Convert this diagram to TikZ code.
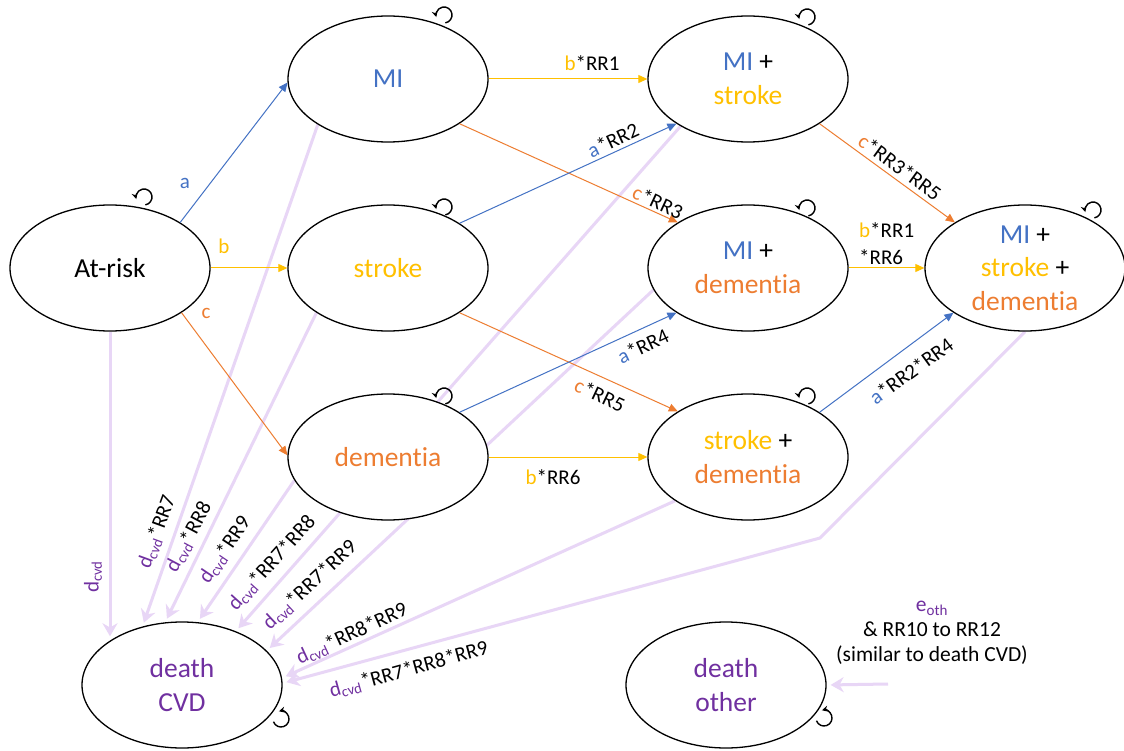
\documentclass[tikz,border=0pt]{standalone}
\usepackage{fontspec}
\setmainfont{Carlito}[Ligatures=NoCommon]
\usetikzlibrary{shapes.geometric,arrows.meta,calc}
\pgfdeclarelayer{bg}
\pgfsetlayers{bg,main}
\definecolor{cblue}{RGB}{68,114,196}
\definecolor{cyel}{RGB}{255,192,0}
\definecolor{corg}{RGB}{237,125,49}
\definecolor{cpur}{RGB}{112,48,160}
\definecolor{clav}{RGB}{232,214,246}
\newcommand\dcvd{\textcolor{cpur}{d\textsubscript{cvd}}}
\begin{document}
\begin{tikzpicture}[x=1pt,y=-1pt,
  state/.style={ellipse, draw=black, line width=1.3pt, fill=white,
    minimum width=200pt, minimum height=126pt, inner sep=0pt},
  txt/.style={align=center, inner sep=0pt, font=\fontsize{27.5}{33.5}\selectfont},
  lbl/.style={font=\fontsize{21}{26}\selectfont, inner sep=0pt},
  tr/.style={line width=1pt, -{Triangle[length=9pt,width=8pt]}},
  die/.style={draw=clav, line width=3pt, -{Stealth[length=13pt,width=15pt]}, shorten >=4pt},
  loopc/.style={line width=1.4pt, -{Stealth[length=6pt,width=6pt]}}
]
\useasboundingbox (0,0) rectangle (1124,751);
\begin{pgfonlayer}{bg}
\fill[white] (0,0) rectangle (1124,751);
\end{pgfonlayer}

% states
\node[state] (ar) at (110,268) {};
\node[txt] (ar-t) at (ar) {At-risk};
\node[state] (mi) at (388,79) {};
\node[txt] (mi-t) at (mi) {\textcolor{cblue}{MI}};
\node[state] (st) at (388,268) {};
\node[txt] (st-t) at (st) {\textcolor{cyel}{stroke}};
\node[state] (de) at (388,457) {};
\node[txt] (de-t) at (de) {\textcolor{corg}{dementia}};
\node[state] (ms) at (748,79) {};
\node[txt] (ms-t) at (ms) {\textcolor{cblue}{MI} +\\\textcolor{cyel}{stroke}};
\node[state] (md) at (748,268) {};
\node[txt] (md-t) at (md) {\textcolor{cblue}{MI} +\\\textcolor{corg}{dementia}};
\node[state] (sd) at (748,457) {};
\node[txt] (sd-t) at (sd) {\textcolor{cyel}{stroke} +\\\textcolor{corg}{dementia}};
\node[state] (msd) at (1025,268) {};
\node[txt] (msd-t) at (msd) {\textcolor{cblue}{MI} +\\\textcolor{cyel}{stroke} +\\\textcolor{corg}{dementia}};
\node[state] (cvd) at (182,685) {};
\node[txt] (cvd-t) at (cvd) {\textcolor{cpur}{death}\\\textcolor{cpur}{CVD}};
\node[state] (oth) at (726,685) {};
\node[txt] (oth-t) at (oth) {\textcolor{cpur}{death}\\\textcolor{cpur}{other}};

% death transitions (behind the states)
\coordinate (bend) at (820,538);
\coordinate (othsrc) at (888,684);
\begin{pgfonlayer}{bg}
\draw[die] (ar.south) -- (ar.south |- cvd.148);
\draw[die] (mi.213) -- (cvd.124);
\draw[die] (st.212) -- (cvd.105);
\draw[die] (de.194) -- (cvd.76);
\draw[die] (ms.215) -- (cvd.45);
\draw[die] (md.193) -- (cvd.22);
\draw[die] (sd.211) -- (cvd.4);
\draw[die] (msd.south) -- (bend) -- (cvd.1);
\draw[die] (othsrc) -- (oth.east);
\end{pgfonlayer}

% disease transitions
\draw[tr,cblue] (ar.33) -- (mi.182);
\draw[tr,cyel] (ar.east) -- (st.west);
\draw[tr,corg] (ar.-32) -- (de.179);
\draw[tr,cyel] (mi.east) -- (ms.west);
\draw[tr,corg] (mi.-32) -- (md.147);
\draw[tr,cblue] (st.32) -- (ms.212);
\draw[tr,corg] (st.-32) -- (sd.147);
\draw[tr,cblue] (de.32) -- (md.212);
\draw[tr,cyel] (de.east) -- (sd.west);
\draw[tr,corg] (ms.-32) -- (msd.147);
\draw[tr,cyel] (md.east) -- (msd.west);
\draw[tr,cblue] (sd.32) -- (msd.212);

% self loops
\draw[loopc] ($(ar)+(34,-71)$) ++(-80:8pt) arc[start angle=-80, end angle=195, radius=8pt];
\draw[loopc] ($(mi)+(56,-64)$) ++(-80:8pt) arc[start angle=-80, end angle=195, radius=8pt];
\draw[loopc] ($(st)+(56,-61)$) ++(-80:8pt) arc[start angle=-80, end angle=195, radius=8pt];
\draw[loopc] ($(de)+(56,-61)$) ++(-80:8pt) arc[start angle=-80, end angle=195, radius=8pt];
\draw[loopc] ($(ms)+(59,-62)$) ++(-80:8pt) arc[start angle=-80, end angle=195, radius=8pt];
\draw[loopc] ($(md)+(59,-60)$) ++(-80:8pt) arc[start angle=-80, end angle=195, radius=8pt];
\draw[loopc] ($(sd)+(59,-61)$) ++(-80:8pt) arc[start angle=-80, end angle=195, radius=8pt];
\draw[loopc] ($(msd)+(68,-58)$) ++(-80:8pt) arc[start angle=-80, end angle=195, radius=8pt];
\draw[loopc] ($(cvd)+(99,34)$) ++(200:8pt) arc[start angle=200, end angle=465, radius=8pt];
\draw[loopc] ($(oth)+(98,33)$) ++(200:8pt) arc[start angle=200, end angle=465, radius=8pt];

% labels of disease transitions
\node[lbl,text=cblue] (la) at (185,183) {a};
\node[lbl,text=cyel] (lb) at (224,246) {b};
\node[lbl,text=corg] (lc) at (206,313) {c};
\node[lbl] (l1) at (592,63) {\textcolor{cyel}{b}*RR1};
\node[lbl,rotate=25] (l2) at (613,140) {\textcolor{cblue}{a}*RR2};
\node[lbl,rotate=-25] (l3) at (658,202) {\textcolor{corg}{c}*RR3};
\node[lbl,rotate=25] (l4) at (643,346) {\textcolor{cblue}{a}*RR4};
\node[lbl,rotate=-25] (l5) at (600,395) {\textcolor{corg}{c}*RR5};
\node[lbl] (l6) at (553,477) {\textcolor{cyel}{b}*RR6};
\node[lbl,rotate=-36] (l7) at (900,167) {\textcolor{corg}{c}*RR3*RR5};
\node[lbl,align=left,anchor=west,font=\fontsize{21}{27}\selectfont] (l8) at (859,244) {\textcolor{cyel}{b}*RR1\\{}*RR6};
\node[lbl,rotate=36] (l9) at (911,371) {\textcolor{cblue}{a}*RR2*RR4};

% labels of death transitions
\node[lbl,rotate=90] (d0) at (93,577) {\dcvd};
\node[lbl,rotate=70] (d1) at (157,532) {\dcvd*RR7};
\node[lbl,rotate=62] (d2) at (189,537) {\dcvd*RR8};
\node[lbl,rotate=56] (d3) at (225,550) {\dcvd*RR9};
\node[lbl,rotate=48] (d4) at (272,563) {\dcvd*RR7*RR8};
\node[lbl,rotate=43] (d5) at (310,585) {\dcvd*RR7*RR9};
\node[lbl,rotate=25] (d6) at (352,634) {\dcvd*RR8*RR9};
\node[lbl,rotate=15.5] (d7) at (409,670) {\dcvd*RR7*RR8*RR9};
\node[lbl,align=center,font=\fontsize{21.5}{25}\selectfont] (lo) at (932,633)
  {\textcolor{cpur}{e\textsubscript{oth}}\\\& RR10 to RR12\\(similar to death CVD)};
\end{tikzpicture}
\end{document}
